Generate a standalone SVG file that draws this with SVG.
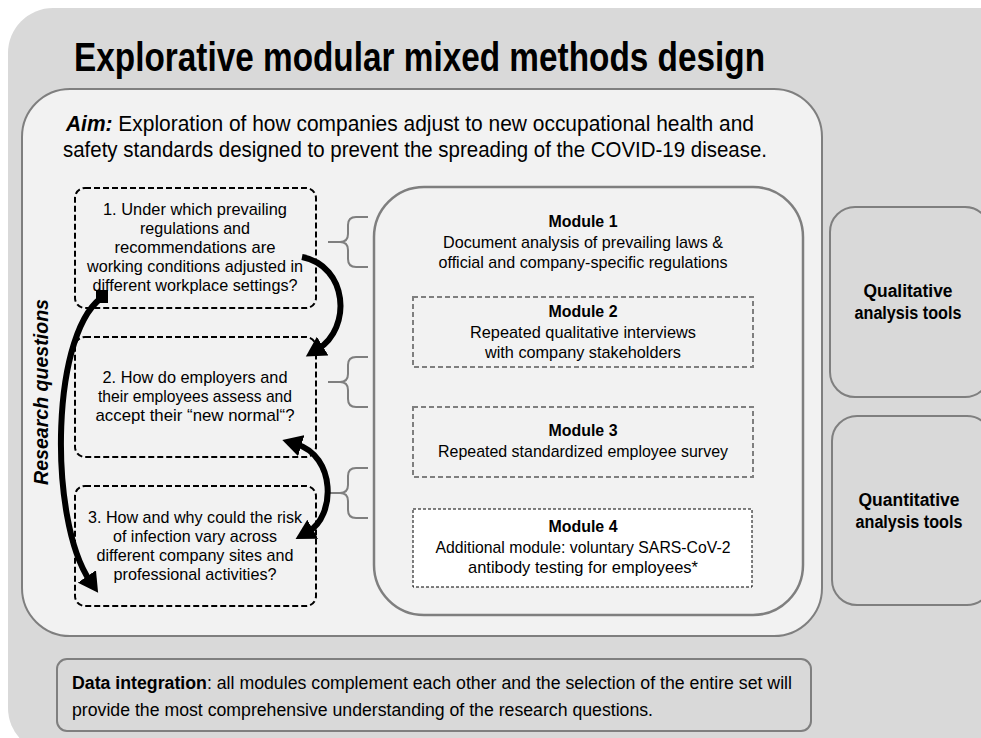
<svg xmlns="http://www.w3.org/2000/svg" width="981" height="738" viewBox="0 0 981 738">
<defs>
<style>
.t{font-family:"Liberation Sans",Arial,sans-serif;fill:#000;}
.c{text-anchor:middle;}
.rq{font-size:17px;}
.md{font-size:17px;}
.b{font-weight:bold;}
.brace{fill:none;stroke:#7f7f7f;stroke-width:2;}
.arr{fill:none;stroke:#000;stroke-width:6;}
</style>
<marker id="ah" markerUnits="userSpaceOnUse" markerWidth="22" markerHeight="22" refX="5" refY="10" orient="auto-start-reverse" viewBox="0 0 20 20">
<path d="M0,0 L18,10 L0,20 z" fill="#000"/>
</marker>
</defs>
<rect width="981" height="738" fill="#ffffff"/>
<g id="outer">
<rect x="8" y="8" width="1020" height="745" rx="45" fill="#d9d9d9"/>
<text class="t b" x="74" y="71" font-size="40" textLength="691" lengthAdjust="spacingAndGlyphs">Explorative modular mixed methods design</text>
</g>
<g id="aim">
<rect x="22" y="89" width="800" height="547" rx="48" fill="#f2f2f2" stroke="#7f7f7f" stroke-width="2"/>
<text class="t" x="66" y="131" font-size="22" textLength="688" lengthAdjust="spacingAndGlyphs"><tspan font-weight="bold" font-style="italic">Aim:</tspan> Exploration of how companies adjust to new occupational health and</text>
<text class="t" x="63" y="157" font-size="22" textLength="704" lengthAdjust="spacingAndGlyphs">safety standards designed to prevent the spreading of the COVID-19 disease.</text>
</g>
<g id="research-questions-label">
<text class="t b c" transform="translate(48,392) rotate(-90)" font-size="21" font-style="italic" textLength="186" lengthAdjust="spacingAndGlyphs">Research questions</text>
</g>
<g id="rq1">
<rect x="75" y="188" width="241" height="120" rx="10" fill="none" stroke="#000" stroke-width="2" stroke-dasharray="6 3"/>
<text class="t rq c" x="195" y="215" textLength="184" lengthAdjust="spacingAndGlyphs">1. Under which prevailing</text>
<text class="t rq c" x="195" y="234" textLength="110" lengthAdjust="spacingAndGlyphs">regulations and</text>
<text class="t rq c" x="195" y="253" textLength="161" lengthAdjust="spacingAndGlyphs">recommendations  are</text>
<text class="t rq c" x="195" y="272" textLength="216" lengthAdjust="spacingAndGlyphs">working conditions adjusted in</text>
<text class="t rq c" x="195" y="291" textLength="205" lengthAdjust="spacingAndGlyphs">different workplace settings?</text>
</g>
<g id="rq2">
<rect x="75" y="337" width="241" height="120" rx="10" fill="none" stroke="#000" stroke-width="2" stroke-dasharray="6 3"/>
<text class="t rq c" x="195" y="383" textLength="185" lengthAdjust="spacingAndGlyphs">2. How do employers  and</text>
<text class="t rq c" x="195" y="402" textLength="194" lengthAdjust="spacingAndGlyphs">their employees assess and</text>
<text class="t rq c" x="195" y="421" textLength="199" lengthAdjust="spacingAndGlyphs">accept their “new normal“?</text>
</g>
<g id="rq3">
<rect x="75" y="486" width="241" height="120" rx="10" fill="none" stroke="#000" stroke-width="2" stroke-dasharray="6 3"/>
<text class="t rq c" x="195" y="523" textLength="214" lengthAdjust="spacingAndGlyphs">3. How and why could the risk</text>
<text class="t rq c" x="195" y="542" textLength="164" lengthAdjust="spacingAndGlyphs">of infection vary across</text>
<text class="t rq c" x="195" y="561" textLength="197" lengthAdjust="spacingAndGlyphs">different company sites and</text>
<text class="t rq c" x="195" y="580" textLength="163" lengthAdjust="spacingAndGlyphs">professional activities?</text>
</g>
<g id="modules">
<rect x="374" y="187" width="429" height="428" rx="50" fill="#f2f2f2" stroke="#7f7f7f" stroke-width="2.5"/>
</g>
<g id="module1">
<text class="t md b c" x="583" y="227" textLength="69" lengthAdjust="spacingAndGlyphs">Module 1</text>
<text class="t md c" x="583" y="248" textLength="280" lengthAdjust="spacingAndGlyphs">Document analysis of prevailing laws  &amp;</text>
<text class="t md c" x="583" y="268" textLength="289" lengthAdjust="spacingAndGlyphs">official and company-specific regulations</text>
</g>
<g id="module2">
<rect x="413" y="297" width="340" height="70" fill="#f2f2f2" stroke="#7f7f7f" stroke-width="2" stroke-dasharray="5 3"/>
<text class="t md b c" x="583" y="317" textLength="69" lengthAdjust="spacingAndGlyphs">Module 2</text>
<text class="t md c" x="583" y="338" textLength="226" lengthAdjust="spacingAndGlyphs">Repeated qualitative interviews</text>
<text class="t md c" x="583" y="358" textLength="196" lengthAdjust="spacingAndGlyphs">with company stakeholders</text>
</g>
<g id="module3">
<rect x="413" y="407" width="340" height="70" fill="#f2f2f2" stroke="#7f7f7f" stroke-width="2" stroke-dasharray="5 3"/>
<text class="t md b c" x="583" y="436" textLength="69" lengthAdjust="spacingAndGlyphs">Module 3</text>
<text class="t md c" x="583" y="457" textLength="290" lengthAdjust="spacingAndGlyphs">Repeated standardized employee survey</text>
</g>
<g id="module4">
<rect x="413" y="509" width="339" height="78" fill="#ffffff" stroke="#000" stroke-width="1" stroke-dasharray="3 2"/>
<text class="t md b c" x="583" y="532" textLength="69" lengthAdjust="spacingAndGlyphs">Module 4</text>
<text class="t md c" x="583" y="553" textLength="295" lengthAdjust="spacingAndGlyphs">Additional module: voluntary SARS-CoV-2</text>
<text class="t md c" x="583" y="573" textLength="230" lengthAdjust="spacingAndGlyphs">antibody testing for employees*</text>
</g>
<g id="qualitative">
<rect x="830" y="207" width="160" height="190" rx="25" fill="#d9d9d9" stroke="#7f7f7f" stroke-width="2"/>
<text class="t b c" x="908" y="297" font-size="18" textLength="89" lengthAdjust="spacingAndGlyphs">Qualitative</text>
<text class="t b c" x="908" y="319" font-size="18" textLength="107" lengthAdjust="spacingAndGlyphs">analysis tools</text>
</g>
<g id="quantitative">
<rect x="832" y="416" width="160" height="189" rx="25" fill="#d9d9d9" stroke="#7f7f7f" stroke-width="2"/>
<text class="t b c" x="909" y="506" font-size="18" textLength="101" lengthAdjust="spacingAndGlyphs">Quantitative</text>
<text class="t b c" x="909" y="528" font-size="18" textLength="107" lengthAdjust="spacingAndGlyphs">analysis tools</text>
</g>
<g id="data-integration">
<rect x="57" y="659" width="754" height="72" rx="10" fill="#d9d9d9" stroke="#7f7f7f" stroke-width="2"/>
<text class="t" x="72" y="689" font-size="17.5" textLength="720" lengthAdjust="spacingAndGlyphs"><tspan font-weight="bold">Data integration</tspan>: all modules complement each other and the selection of the entire set will</text>
<text class="t" x="72" y="716" font-size="17.5" textLength="581" lengthAdjust="spacingAndGlyphs">provide the most comprehensive understanding of the research questions.</text>
</g>
<g id="connectors">
<path class="brace" d="M368 217 L356 217 Q348 217 348 225 L348 234 Q348 242 340 242 L328 242 M340 242 Q348 242 348 250 L348 259 Q348 267 356 267 L368 267"/>
<path class="brace" d="M368 357 L356 357 Q348 357 348 365 L348 374 Q348 382 340 382 L328 382 M340 382 Q348 382 348 390 L348 399 Q348 407 356 407 L368 407"/>
<path class="brace" d="M368 468 L356 468 Q348 468 348 476 L348 485 Q348 493 340 493 L328 493 M340 493 Q348 493 348 501 L348 510 Q348 518 356 518 L368 518"/>
<path class="arr" d="M302 257 C348 266 352 328 318 349" marker-end="url(#ah)"/>
<path class="arr" d="M296 444 C336 456 336 516 308 532" marker-start="url(#ah)" marker-end="url(#ah)"/>
<path class="arr" stroke-width="7" d="M106 295 C50 325 48 520 90 581" marker-end="url(#ah)"/>
<path d="M96 290 L108 290 L108 303 L96 303 z" fill="#000"/>
</g>
</svg>
